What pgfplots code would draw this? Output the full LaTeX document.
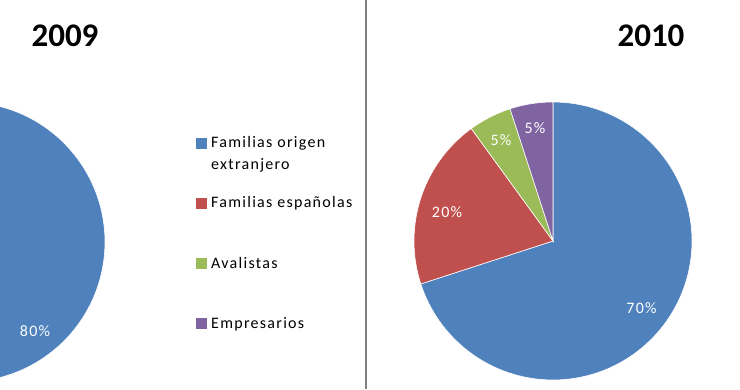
\documentclass[border=0pt]{standalone}
\usepackage{fontspec}
\setmainfont{Carlito}
\usepackage{pgfplots}
\pgfplotsset{compat=1.18}
\definecolor{pblue}{HTML}{4F81BD}
\definecolor{pred}{HTML}{C0504D}
\definecolor{pgreen}{HTML}{9BBB59}
\definecolor{ppurple}{HTML}{8064A2}
\newcommand\lf{\fontsize{16}{19}\selectfont\addfontfeature{LetterSpace=8}}
\newcommand\tf{\fontsize{33}{36}\selectfont\bfseries}
% pie values (percent)
% 2009: Familias origen extranjero, Familias espanolas, Avalistas, Empresarios
\def\Aa{80}\def\Ab{10}\def\Ac{5}\def\Ad{5}
% 2010
\def\Ba{70}\def\Bb{20}\def\Bc{5}\def\Bd{5}
\begin{document}
\begin{tikzpicture}
\useasboundingbox (0,0) rectangle (740pt,389pt);
\begin{axis}[at={(0,0)}, anchor=south west, scale only axis,
  width=740pt, height=389pt, xmin=0, xmax=740, ymin=0, ymax=389,
  hide axis, clip=true]
% ---- 2009 pie (centre -35,147, r 140)
\pgfmathsetmacro\sa{90-3.6*\Aa}
\pgfmathsetmacro\sb{\sa-3.6*\Ab}
\pgfmathsetmacro\sc{\sb-3.6*\Ac}
\pgfmathsetmacro\sd{\sc-3.6*\Ad}
\addplot[fill=pblue, draw=white, line width=0.6pt, domain=\sa:90, samples=120, variable=\t]
  ({-35+140*cos(\t)},{147+140*sin(\t)}) -- (axis cs:-35,147) -- cycle;
\addplot[fill=pred, draw=white, line width=0.6pt, domain=\sb:\sa, samples=30, variable=\t]
  ({-35+140*cos(\t)},{147+140*sin(\t)}) -- (axis cs:-35,147) -- cycle;
\addplot[fill=pgreen, draw=white, line width=0.6pt, domain=\sc:\sb, samples=20, variable=\t]
  ({-35+140*cos(\t)},{147+140*sin(\t)}) -- (axis cs:-35,147) -- cycle;
\addplot[fill=ppurple, draw=white, line width=0.6pt, domain=\sd:\sc, samples=20, variable=\t]
  ({-35+140*cos(\t)},{147+140*sin(\t)}) -- (axis cs:-35,147) -- cycle;
% ---- 2010 pie (centre 553,148, r 139)
\pgfmathsetmacro\ta{90-3.6*\Ba}
\pgfmathsetmacro\tb{\ta-3.6*\Bb}
\pgfmathsetmacro\tc{\tb-3.6*\Bc}
\pgfmathsetmacro\td{\tc-3.6*\Bd}
\addplot[fill=pblue, draw=white, line width=0.6pt, domain=\ta:90, samples=120, variable=\t]
  ({553+139*cos(\t)},{148+139*sin(\t)}) -- (axis cs:553,148) -- cycle;
\addplot[fill=pred, draw=white, line width=0.6pt, domain=\tb:\ta, samples=40, variable=\t]
  ({553+139*cos(\t)},{148+139*sin(\t)}) -- (axis cs:553,148) -- cycle;
\addplot[fill=pgreen, draw=white, line width=0.6pt, domain=\tc:\tb, samples=20, variable=\t]
  ({553+139*cos(\t)},{148+139*sin(\t)}) -- (axis cs:553,148) -- cycle;
\addplot[fill=ppurple, draw=white, line width=0.6pt, domain=\td:\tc, samples=20, variable=\t]
  ({553+139*cos(\t)},{148+139*sin(\t)}) -- (axis cs:553,148) -- cycle;
% ---- labels
\node[text=white, inner sep=0] at (axis cs:35,58) {\lf 80\%};
\node[text=white, inner sep=0] at (axis cs:641.5,81) {\lf 70\%};
\node[text=white, inner sep=0] at (axis cs:447,177) {\lf 20\%};
\node[text=white, inner sep=0] at (axis cs:501,249) {\lf 5\%};
\node[text=white, inner sep=0] at (axis cs:535,261) {\lf 5\%};
% ---- titles
\node[inner sep=0] at (axis cs:65,353) {\tf 2009};
\node[inner sep=0] at (axis cs:651,353) {\tf 2010};
% ---- divider
\draw[color=gray, line width=1.5pt] (axis cs:366,0) -- (axis cs:366,389);
% ---- legend
\fill[pblue] (axis cs:196,240) rectangle (axis cs:207,251);
\fill[pred] (axis cs:196,180) rectangle (axis cs:207,191);
\fill[pgreen] (axis cs:196,120) rectangle (axis cs:207,131);
\fill[ppurple] (axis cs:196,60) rectangle (axis cs:207,71);
\node[anchor=base west, inner sep=0] at (axis cs:211,241) {\lf Familias origen};
\node[anchor=base west, inner sep=0] at (axis cs:211,219) {\lf extranjero};
\node[anchor=base west, inner sep=0] at (axis cs:211,181) {\lf Familias españolas};
\node[anchor=base west, inner sep=0] at (axis cs:211,121) {\lf Avalistas};
\node[anchor=base west, inner sep=0] at (axis cs:211,61) {\lf Empresarios};
\end{axis}
\end{tikzpicture}
\end{document}
